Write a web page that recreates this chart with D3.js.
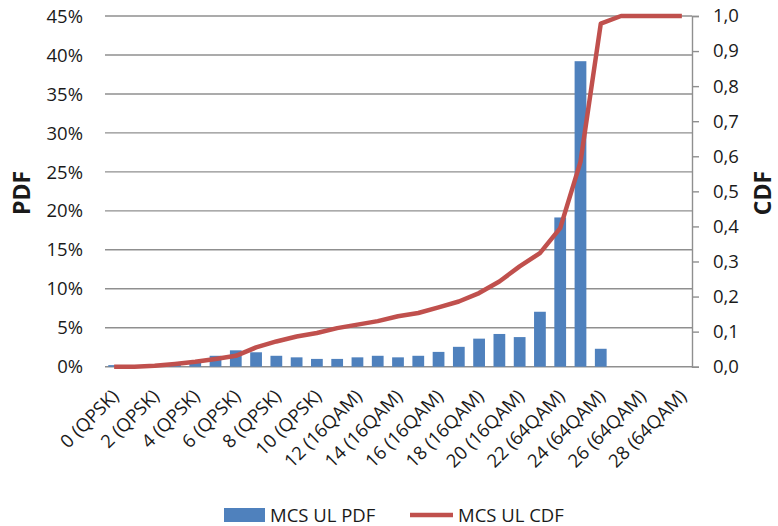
<!DOCTYPE html>
<html><head><meta charset="utf-8">
<script src="https://cdn.jsdelivr.net/npm/d3@7"></script>
<style>body{margin:0;background:#fff}svg{display:block}text{font-family:"Open Sans",sans-serif;fill:#1a1a1a}</style>
</head><body><svg id="c" width="778" height="526"></svg>
<script>
const categories = ["0 (QPSK)","1 (QPSK)","2 (QPSK)","3 (QPSK)","4 (QPSK)","5 (QPSK)","6 (QPSK)","7 (QPSK)","8 (QPSK)","9 (QPSK)","10 (QPSK)","11 (16QAM)","12 (16QAM)","13 (16QAM)","14 (16QAM)","15 (16QAM)","16 (16QAM)","17 (16QAM)","18 (16QAM)","19 (16QAM)","20 (16QAM)","21 (64QAM)","22 (64QAM)","23 (64QAM)","24 (64QAM)","25 (64QAM)","26 (64QAM)","27 (64QAM)","28 (64QAM)"];
const shownTicks = ["0 (QPSK)","2 (QPSK)","4 (QPSK)","6 (QPSK)","8 (QPSK)","10 (QPSK)","12 (16QAM)","14 (16QAM)","16 (16QAM)","18 (16QAM)","20 (16QAM)","22 (64QAM)","24 (64QAM)","26 (64QAM)","28 (64QAM)"];
const pdfValues = [0.002,0.001,0.002,0.004,0.006,0.014,0.021,0.0185,0.014,0.012,0.010,0.010,0.012,0.014,0.012,0.014,0.019,0.0255,0.036,0.042,0.038,0.0705,0.1915,0.392,0.023,0,0,0,0];
const cdfValues = [0.0,0.0,0.003,0.008,0.014,0.022,0.031,0.055,0.072,0.086,0.096,0.110,0.120,0.130,0.144,0.153,0.169,0.186,0.210,0.243,0.286,0.324,0.395,0.584,0.978,1.0,1.0,1.0,1.0];
const pdfTicks = [0,0.05,0.10,0.15,0.20,0.25,0.30,0.35,0.40,0.45];
const cdfTicks = [0,0.1,0.2,0.3,0.4,0.5,0.6,0.7,0.8,0.9,1.0];
const seriesNames = ["MCS UL PDF","MCS UL CDF"];

const svg = d3.select("#c");
const L=104, R=692, T=16, B=366.7;
const x = d3.scaleBand().domain(categories).range([L,R]).paddingInner(0.42).paddingOuter(0.21);
const yL = d3.scaleLinear().domain([0,0.45]).range([B,T]);
const yR = d3.scaleLinear().domain([0,1]).range([B,T]);
const BLUE="#4F81BD", RED="#C0504D", GRID="#8f8f8f";

// gridlines
svg.append("g").selectAll("line").data(pdfTicks).join("line")
  .attr("x1",L+1).attr("x2",R).attr("y1",d=>yL(d)).attr("y2",d=>yL(d))
  .attr("stroke",GRID).attr("stroke-width",1.4);

// left axis labels
svg.append("g").selectAll("text").data(pdfTicks).join("text")
  .attr("x",83).attr("y",d=>yL(d)).attr("dy","0.36em").attr("text-anchor","end")
  .style("font-size","18.5px").text(d=>d3.format(".0%")(d));

// right axis
const ra = svg.append("g").attr("transform",`translate(${R},0)`)
  .call(d3.axisRight(yR).tickValues(cdfTicks).tickSize(7).tickPadding(14)
    .tickFormat(d=>d3.format(".1f")(d).replace(".",",")));
ra.select(".domain").attr("stroke",GRID).attr("stroke-width",1.4);
ra.selectAll(".tick line").attr("stroke",GRID).attr("stroke-width",1.4);
ra.selectAll(".tick text").attr("fill","#1a1a1a").style("font-size","18.5px").style("font-family","'Open Sans',sans-serif");

// bars
svg.append("g").selectAll("rect").data(categories.map((c,i)=>({c,v:pdfValues[i]}))).join("rect")
  .attr("x",d=>x(d.c)).attr("width",x.bandwidth())
  .attr("y",d=>yL(d.v)).attr("height",d=>B-yL(d.v)).attr("fill",BLUE);

// line
const line = d3.line().x((d,i)=>x(categories[i])+x.bandwidth()/2).y(d=>yR(d));
svg.append("path").datum(cdfValues).attr("d",line).attr("fill","none")
  .attr("stroke",RED).attr("stroke-width",4.5).attr("stroke-linejoin","round");

// x labels
svg.append("g").selectAll("text").data(shownTicks).join("text")
  .attr("transform",d=>`translate(${x(d)+x.bandwidth()/2+1},${B+26}) rotate(-45)`)
  .attr("text-anchor","end").attr("dy","0.36em")
  .style("font-size","18.5px").text(d=>d);

// axis titles
svg.append("text").attr("transform","translate(22,193) rotate(-90)").attr("text-anchor","middle")
  .attr("dy","0.36em").style("font-size","23px").style("font-weight","bold").text("PDF");
svg.append("text").attr("transform","translate(763,193) rotate(-90)").attr("text-anchor","middle")
  .attr("dy","0.36em").style("font-size","23px").style("font-weight","bold").text("CDF");

// legend
const lg = svg.append("g");
lg.append("rect").attr("x",224).attr("y",508).attr("width",41).attr("height",14).attr("fill",BLUE);
lg.append("text").attr("x",270).attr("y",522).style("font-size","18.5px").text(seriesNames[0]);
lg.append("line").attr("x1",410).attr("x2",453).attr("y1",515).attr("y2",515).attr("stroke",RED).attr("stroke-width",4.5);
lg.append("text").attr("x",458).attr("y",522).style("font-size","18.5px").text(seriesNames[1]);
</script></body></html>
